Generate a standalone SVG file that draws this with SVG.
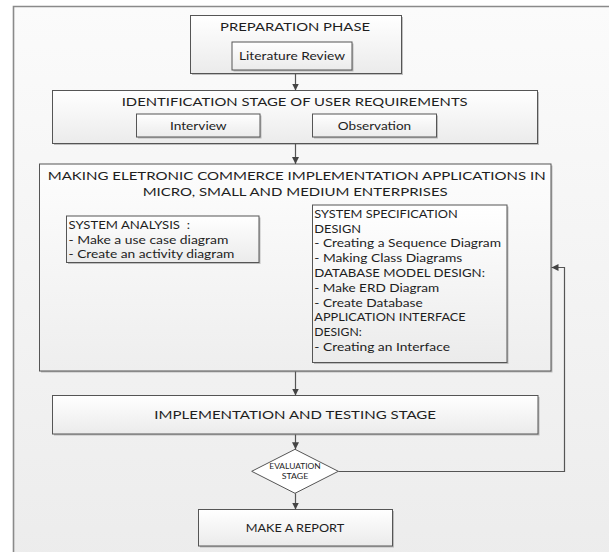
<svg xmlns="http://www.w3.org/2000/svg" width="609" height="552" viewBox="0 0 609 552">
<defs>
<linearGradient id="bg" x1="0" y1="0" x2="0" y2="1">
<stop offset="0" stop-color="#fbfbfb"/>
<stop offset="1" stop-color="#ececec"/>
</linearGradient>
<linearGradient id="boxg" x1="0" y1="0" x2="0" y2="1">
<stop offset="0" stop-color="#ffffff"/>
<stop offset="1" stop-color="#ebebeb"/>
</linearGradient>
<linearGradient id="maing" x1="0" y1="0" x2="0" y2="1">
<stop offset="0" stop-color="#fdfdfd"/>
<stop offset="1" stop-color="#eeeeee"/>
</linearGradient>
<marker id="arr" markerUnits="userSpaceOnUse" markerWidth="8" markerHeight="8" refX="7" refY="3.5" orient="auto">
<path d="M0,0 L7,3.5 L0,7 Z" fill="#444444"/>
</marker>
<style>
.box{fill:url(#boxg);stroke:#555555;stroke-width:1}
.shadow{fill:#9a9a9a;opacity:0.6}
.t{font-family:Lato,"Liberation Sans",sans-serif;font-size:12px;fill:#1e1e1e}
.s{font-family:Lato,"Liberation Sans",sans-serif;font-size:11.6px;fill:#1e1e1e}
.m{text-anchor:middle}
.conn{fill:none;stroke:#555555;stroke-width:1.2}
</style>
</defs>
<rect x="0" y="0" width="609" height="552" fill="#ffffff"/>
<g id="frame">
<rect x="13.5" y="6.5" width="620" height="560" fill="url(#bg)"/>
<path d="M13.5,560 V6.5 H615" fill="none" stroke="#8a8a8a" stroke-width="1.6"/>
</g>
<g id="preparation">
<rect class="shadow" x="192" y="17" width="211" height="58"/>
<rect class="box" x="190.5" y="15.5" width="211" height="58"/>
<text class="t m" x="295" y="30.5" textLength="150" lengthAdjust="spacingAndGlyphs">PREPARATION PHASE</text>
</g>
<g id="literature">
<rect class="shadow" x="233.5" y="43.5" width="120" height="28"/>
<rect class="box" x="232" y="42" width="120" height="28"/>
<text class="t m" x="292" y="60" textLength="106" lengthAdjust="spacingAndGlyphs">Literature Review</text>
</g>
<g id="identification">
<rect class="shadow" x="54" y="92" width="485" height="53"/>
<rect class="box" x="52.5" y="90.5" width="485" height="53"/>
<text class="t m" x="294.7" y="106" textLength="346" lengthAdjust="spacingAndGlyphs">IDENTIFICATION STAGE OF USER REQUIREMENTS</text>
</g>
<g id="interview">
<rect class="shadow" x="138" y="115.5" width="123.5" height="23"/>
<rect class="box" x="136.5" y="114" width="123.5" height="23"/>
<text class="t m" x="198.3" y="129.5" textLength="56.7" lengthAdjust="spacingAndGlyphs">Interview</text>
</g>
<g id="observation">
<rect class="shadow" x="314" y="115.5" width="124" height="23"/>
<rect class="box" x="312.5" y="114" width="124" height="23"/>
<text class="t m" x="374.5" y="129.5" textLength="73.3" lengthAdjust="spacingAndGlyphs">Observation</text>
</g>
<g id="making">
<rect class="shadow" x="41" y="165.5" width="511.5" height="207"/>
<rect class="box" x="39.5" y="164" width="511.5" height="207" style="fill:url(#maing)"/>
<text class="t m" x="296.7" y="179.5" textLength="498" lengthAdjust="spacingAndGlyphs">MAKING ELETRONIC COMMERCE IMPLEMENTATION APPLICATIONS IN</text>
<text class="t m" x="295.2" y="196" textLength="305" lengthAdjust="spacingAndGlyphs">MICRO, SMALL AND MEDIUM ENTERPRISES</text>
</g>
<g id="system-analysis">
<rect class="shadow" x="68" y="217.5" width="192.5" height="46.5"/>
<rect class="box" x="66.5" y="216" width="192.5" height="46.5"/>
<text class="s" x="68.5" y="229.3" textLength="121.5" lengthAdjust="spacingAndGlyphs" xml:space="preserve">SYSTEM ANALYSIS  :</text>
<text class="s" x="68.5" y="244" textLength="159.8" lengthAdjust="spacingAndGlyphs">- Make a use case diagram</text>
<text class="s" x="68.5" y="258.3" textLength="165.8" lengthAdjust="spacingAndGlyphs">- Create an activity diagram</text>
</g>
<g id="system-specification">
<rect class="shadow" x="314" y="206.5" width="194.5" height="157.5"/>
<rect class="box" x="312.5" y="205" width="194.5" height="157.5"/>
<text class="s" x="314.3" y="217.7" textLength="143.4" lengthAdjust="spacingAndGlyphs">SYSTEM SPECIFICATION</text>
<text class="s" x="314.3" y="232.5" textLength="46.7" lengthAdjust="spacingAndGlyphs">DESIGN</text>
<text class="s" x="314.3" y="247.3" textLength="186.7" lengthAdjust="spacingAndGlyphs">- Creating a Sequence Diagram</text>
<text class="s" x="314.3" y="262.1" textLength="148" lengthAdjust="spacingAndGlyphs">- Making Class Diagrams</text>
<text class="s" x="314.3" y="276.9" textLength="170.7" lengthAdjust="spacingAndGlyphs">DATABASE MODEL DESIGN:</text>
<text class="s" x="314.3" y="291.7" textLength="125" lengthAdjust="spacingAndGlyphs">- Make ERD Diagram</text>
<text class="s" x="314.3" y="306.5" textLength="108.4" lengthAdjust="spacingAndGlyphs">- Create Database</text>
<text class="s" x="314.3" y="321.3" textLength="151.4" lengthAdjust="spacingAndGlyphs">APPLICATION INTERFACE</text>
<text class="s" x="314.3" y="336.1" textLength="47.4" lengthAdjust="spacingAndGlyphs">DESIGN:</text>
<text class="s" x="314.3" y="350.9" textLength="135.7" lengthAdjust="spacingAndGlyphs">- Creating an Interface</text>
</g>
<g id="implementation">
<rect class="shadow" x="54" y="397" width="485.5" height="38.5"/>
<rect class="box" x="52.5" y="395.5" width="485.5" height="38.5"/>
<text class="t m" x="295.2" y="419" textLength="281.7" lengthAdjust="spacingAndGlyphs">IMPLEMENTATION AND TESTING STAGE</text>
</g>
<g id="evaluation">
<polygon points="251.7,471.3 295,449.3 338.3,471.3 295,493.3" fill="#ffffff" stroke="#555555" stroke-width="1"/>
<text class="m" x="295" y="468.5" font-family="Lato,'Liberation Sans',sans-serif" font-size="6.8" fill="#1e1e1e" textLength="51.4" lengthAdjust="spacingAndGlyphs">EVALUATION</text>
<text class="m" x="295" y="479" font-family="Lato,'Liberation Sans',sans-serif" font-size="6.8" fill="#1e1e1e" textLength="26.6" lengthAdjust="spacingAndGlyphs">STAGE</text>
</g>
<g id="report">
<rect class="shadow" x="200" y="511" width="194" height="36.5"/>
<rect class="box" x="198.5" y="509.5" width="194" height="36.5"/>
<text class="t m" x="295" y="532.3" textLength="98.6" lengthAdjust="spacingAndGlyphs">MAKE A REPORT</text>
</g>
<g id="connectors">
<path class="conn" d="M295.5,74 V90.5" marker-end="url(#arr)"/>
<path class="conn" d="M295.5,144 V164" marker-end="url(#arr)"/>
<path class="conn" d="M295.5,371.5 V395.5" marker-end="url(#arr)"/>
<path class="conn" d="M295.5,434.5 V449.3" marker-end="url(#arr)"/>
<path class="conn" d="M295.5,493.3 V509.5" marker-end="url(#arr)"/>
<path class="conn" d="M338.3,471.5 H564.5 V267.5 H551.5" marker-end="url(#arr)"/>
</g>
</svg>
